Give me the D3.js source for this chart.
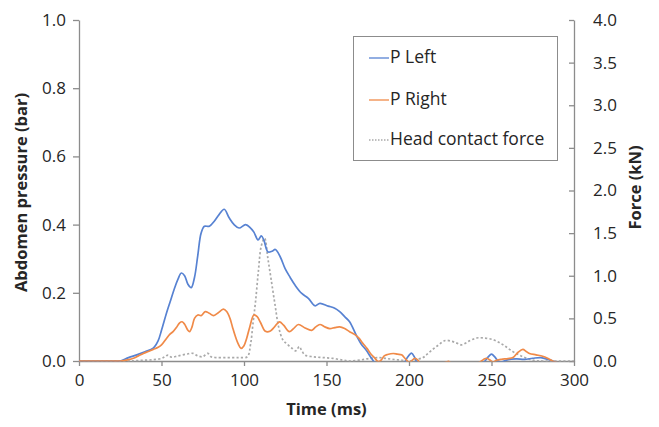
<!DOCTYPE html>
<html>
<head>
<meta charset="utf-8">
<script src="https://cdn.jsdelivr.net/npm/d3@7"></script>
<style>
  html, body { margin: 0; padding: 0; background: #fff; }
  svg { display: block; }
  text { font-family: "Open Sans", "Liberation Sans", sans-serif; fill: #262626; }
</style>
</head>
<body>
<svg id="chart" width="659" height="427"></svg>
<script>
// Abdomen pressure, left side (bar) over time (ms)
const leftTime = [0, 10, 20, 25, 30, 35, 40, 45, 48, 50, 53, 55, 58, 60, 62, 64, 66, 68, 70, 72, 74, 76, 79, 82, 85, 88, 91, 94, 97, 101, 104, 106, 108.5, 110.5, 112, 114.5, 117, 119, 122, 125, 128, 131, 135, 139, 143, 146, 151, 155, 158, 161, 164, 168, 171, 174, 178, 182, 190, 197, 199, 201.5, 203.5, 205, 210, 240, 246, 248, 250, 252, 254, 256, 260, 265, 270, 275, 280, 284, 287, 290, 300];
const leftPressure = [0, 0, 0, 0, 0.01, 0.018, 0.027, 0.038, 0.06, 0.09, 0.14, 0.17, 0.215, 0.24, 0.258, 0.25, 0.225, 0.215, 0.245, 0.31, 0.375, 0.395, 0.395, 0.41, 0.43, 0.445, 0.42, 0.4, 0.39, 0.4, 0.39, 0.378, 0.355, 0.367, 0.355, 0.32, 0.322, 0.327, 0.305, 0.27, 0.245, 0.222, 0.198, 0.184, 0.162, 0.169, 0.161, 0.155, 0.145, 0.13, 0.115, 0.076, 0.05, 0.032, 0.003, -0.02, -0.02, -0.005, 0.01, 0.023, 0.01, -0.005, -0.02, -0.02, 0, 0.012, 0.02, 0.012, 0, -0.003, 0.004, 0.006, 0.005, 0.008, 0.01, 0.005, 0, -0.005, -0.005];

// Abdomen pressure, right side (bar)
const rightTime = [0, 10, 20, 25, 30, 33, 36, 39, 42, 45, 48, 50, 53, 55, 57, 59, 61, 62.5, 64, 66, 67, 68.5, 70, 72, 74, 76.5, 79, 81.5, 84, 87.5, 89.5, 91.5, 93, 94.5, 96.5, 98.2, 100, 101.6, 103.5, 106, 108, 110, 113, 116, 118.5, 121.5, 124, 127.5, 130, 133, 137, 141, 143.5, 146, 149, 152, 155, 158, 161, 164, 167, 169.5, 172, 174.5, 177, 179, 181.5, 183.5, 185, 187, 190.5, 193, 195.5, 197.5, 199.5, 201, 203.5, 205.5, 207, 215, 224, 226, 235, 243, 245, 247, 249, 251, 253, 256, 260, 263, 266, 269, 271, 273, 277, 281, 284, 287, 290, 300];
const rightPressure = [0, 0, 0, 0, 0.004, 0.008, 0.015, 0.022, 0.028, 0.034, 0.04, 0.047, 0.066, 0.078, 0.086, 0.098, 0.112, 0.115, 0.108, 0.09, 0.086, 0.1, 0.125, 0.135, 0.133, 0.145, 0.14, 0.133, 0.14, 0.152, 0.145, 0.125, 0.1, 0.076, 0.05, 0.037, 0.045, 0.066, 0.1, 0.135, 0.13, 0.113, 0.087, 0.088, 0.1, 0.115, 0.105, 0.086, 0.095, 0.107, 0.097, 0.09, 0.1, 0.107, 0.1, 0.095, 0.098, 0.1, 0.095, 0.086, 0.078, 0.068, 0.052, 0.037, 0.02, 0.01, -0.002, 0.005, 0.015, 0.019, 0.022, 0.02, 0.018, 0.008, -0.002, -0.002, 0.008, 0.002, -0.01, -0.02, -0.001, -0.01, -0.02, -0.003, 0.004, 0.008, 0.003, -0.003, 0.002, 0.005, 0.007, 0.01, 0.025, 0.034, 0.028, 0.022, 0.018, 0.014, 0.008, 0, -0.005, -0.005];

// Head contact force (kN)
const forceTime = [0, 30, 35, 40, 45, 50, 52, 54, 56, 60, 65, 69, 72, 75, 78, 80, 83, 90, 97, 102, 104, 105.5, 107, 108.7, 110.5, 112.5, 114.5, 116.5, 118.8, 121, 123.5, 126, 129, 131.5, 133.5, 135, 137, 142, 148, 154, 160, 164, 170, 176, 182, 186, 190, 195, 200, 205, 208.5, 211, 214, 218, 222, 226, 229, 232, 236, 241, 245, 251, 257, 263, 269, 275, 281, 300];
const headForce = [0, 0, 0.005, 0.01, 0.015, 0.03, 0.05, 0.07, 0.045, 0.06, 0.08, 0.09, 0.06, 0.05, 0.09, 0.05, 0.04, 0.04, 0.04, 0.05, 0.2, 0.45, 0.7, 1.05, 1.35, 1.44, 1.2, 0.95, 0.66, 0.4, 0.25, 0.2, 0.15, 0.12, 0.17, 0.12, 0.07, 0.05, 0.04, 0.03, 0.01, 0, 0.01, 0.03, 0.04, 0.03, 0.02, 0.01, 0, 0.02, 0.04, 0.08, 0.13, 0.19, 0.24, 0.23, 0.21, 0.19, 0.23, 0.27, 0.27, 0.25, 0.19, 0.11, 0.05, 0.01, 0, 0];

// Axis tick values
const timeTicks = [0, 50, 100, 150, 200, 250, 300];
const pressureTicks = [0, 0.2, 0.4, 0.6, 0.8, 1.0];
const forceTicks = [0, 0.5, 1.0, 1.5, 2.0, 2.5, 3.0, 3.5, 4.0];

const seriesNames = ["P Left", "P Right", "Head contact force"];
const seriesColors = ["#5782d2", "#f08a48", "#a9a9a9"];

const svg = d3.select("#chart");
const plot = { left: 79, right: 574, top: 20, bottom: 361 };
const axisColor = "#8c8c8c";

const x = d3.scaleLinear().domain([0, 300]).range([plot.left, plot.right]);
const yP = d3.scaleLinear().domain([0, 1]).range([plot.bottom, plot.top]);
const yF = d3.scaleLinear().domain([0, 4]).range([plot.bottom, plot.top]);

svg.append("defs").append("clipPath").attr("id", "plot-clip")
  .append("rect")
  .attr("x", plot.left).attr("y", plot.top - 2)
  .attr("width", plot.right - plot.left).attr("height", plot.bottom - plot.top + 2.6);

// Axes
const xAxis = svg.append("g")
  .attr("transform", `translate(0,${plot.bottom})`)
  .call(d3.axisBottom(x).tickValues(timeTicks).tickFormat(d3.format("d")).tickSizeInner(5).tickSizeOuter(0).tickPadding(8));

const yAxisL = svg.append("g")
  .attr("transform", `translate(${plot.left},0)`)
  .call(d3.axisLeft(yP).tickValues(pressureTicks).tickFormat(d3.format(".1f")).tickSizeInner(6).tickSizeOuter(0).tickPadding(7));

const yAxisR = svg.append("g")
  .attr("transform", `translate(${plot.right},0)`)
  .call(d3.axisRight(yF).tickValues(forceTicks).tickFormat(d3.format(".1f")).tickSizeInner(-5).tickSizeOuter(0).tickPadding(19));

[xAxis, yAxisL, yAxisR].forEach(g => {
  g.select(".domain").attr("stroke", axisColor).attr("stroke-width", 1.3);
  g.selectAll(".tick line").attr("stroke", axisColor).attr("stroke-width", 1.3);
  g.selectAll(".tick text")
    .style("font-family", "'Open Sans', sans-serif")
    .style("font-size", "17px")
    .attr("fill", "#262626");
});

// Data lines
const layer = svg.append("g").attr("clip-path", "url(#plot-clip)");

function drawLine(times, values, yScale, color, dash) {
  const pts = times.map((t, i) => [t, values[i]]);
  const line = d3.line()
    .x(d => x(d[0]))
    .y(d => yScale(d[1]))
    .curve(d3.curveCatmullRom.alpha(0.5));
  layer.append("path")
    .attr("d", line(pts))
    .attr("fill", "none")
    .attr("stroke", color)
    .attr("stroke-width", 1.7)
    .attr("stroke-dasharray", dash || null)
    .attr("stroke-linejoin", "round");
}

drawLine(forceTime, headForce, yF, seriesColors[2], "2.2,2.2");
drawLine(leftTime, leftPressure, yP, seriesColors[0]);
drawLine(rightTime, rightPressure, yP, seriesColors[1]);

// Axis titles
svg.append("text")
  .attr("transform", `translate(23,${(plot.top + plot.bottom) / 2 + 2}) rotate(-90)`)
  .attr("text-anchor", "middle")
  .attr("dominant-baseline", "middle")
  .style("font-size", "16.5px").style("font-weight", "700")
  .text("Abdomen pressure (bar)");

svg.append("text")
  .attr("transform", `translate(637,${(plot.top + plot.bottom) / 2 - 3}) rotate(-90)`)
  .attr("text-anchor", "middle")
  .attr("dominant-baseline", "middle")
  .style("font-size", "16.5px").style("font-weight", "700")
  .text("Force (kN)");

svg.append("text")
  .attr("x", (plot.left + plot.right) / 2)
  .attr("y", 411)
  .attr("text-anchor", "middle")
  .attr("dominant-baseline", "middle")
  .style("font-size", "16.5px").style("font-weight", "700")
  .text("Time (ms)");

// Legend
const legend = svg.append("g");
legend.append("rect")
  .attr("x", 353.5).attr("y", 36.5).attr("width", 204).attr("height", 124)
  .attr("fill", "#fff").attr("stroke", "#8c8c8c").attr("stroke-width", 1);

const legendRows = [58, 100, 140];
seriesNames.forEach((name, i) => {
  const yy = legendRows[i];
  legend.append("line")
    .attr("x1", 369).attr("x2", 389).attr("y1", yy).attr("y2", yy)
    .attr("stroke", seriesColors[i]).attr("stroke-width", 1.3)
    .attr("stroke-dasharray", i === 2 ? "1.5,1.5" : null);
  legend.append("text")
    .attr("x", 390).attr("y", yy)
    .attr("dominant-baseline", "middle")
    .style("font-size", "17.5px")
    .text(name);
});
</script>
</body>
</html>
